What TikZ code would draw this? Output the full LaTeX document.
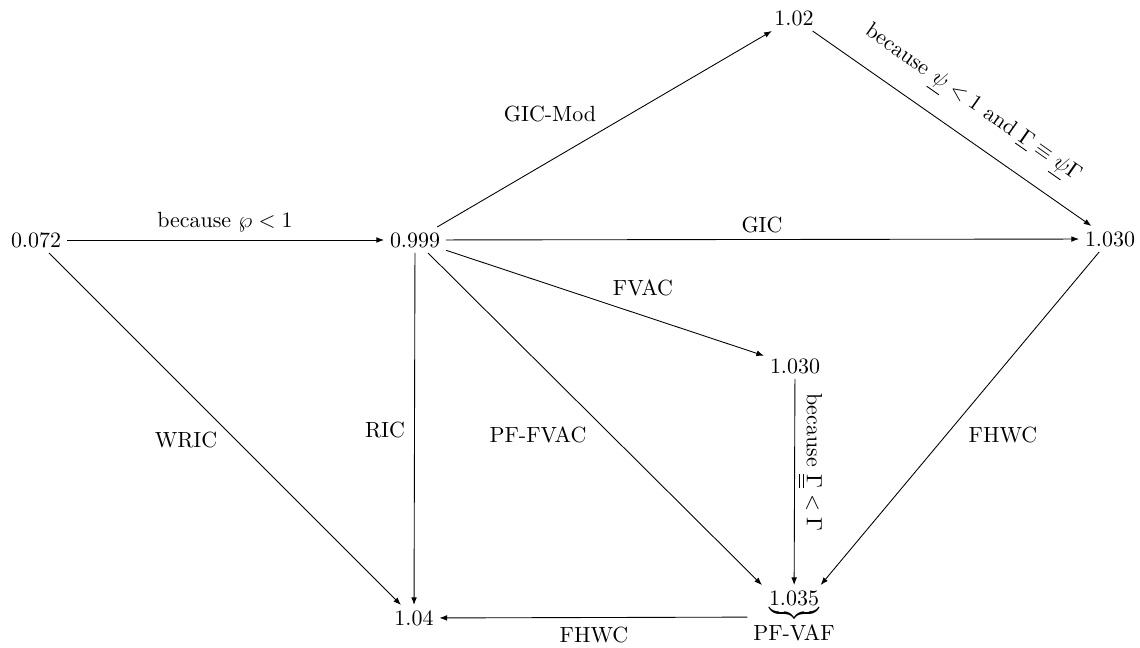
\documentclass[tikz,border=0pt]{standalone}
\usetikzlibrary{arrows.meta}
\begin{document}
\begin{tikzpicture}[x=0.4556pt,y=-0.4556pt,
  nd/.style={inner sep=2.5pt},
  arr/.style={-{Latex[length=3.5pt,width=2.6pt]}, line width=0.4pt},
  lbl/.style={inner sep=0pt}]
\useasboundingbox (0,0) rectangle (1140,648);
% nodes
\node[nd] (a) at (36,240) {$0.072$};
\node[nd] (b) at (415,240) {$0.999$};
\node[nd] (c) at (794,18) {$1.02$};
\node[nd] (d) at (1110,239) {$1.030$};
\node[nd] (e) at (795,366) {$1.030$};
\node[nd] (f) at (794,617) {$\underbrace{1.035}_{\mbox{PF-VAF}}$};
\node[nd] (g) at (414,618) {$1.04$};
% connectors
\draw[arr] (a) -- (b);
\draw[arr] (b) -- (c);
\draw[arr] (c) -- (d);
\draw[arr] (b) -- (d);
\draw[arr] (b) -- (e);
\draw[arr] (e) -- (f);
\draw[arr] (b) -- (f);
\draw[arr] (b) -- (g);
\draw[arr] (a) -- (g);
\draw[arr] (d) -- (f);
\draw[arr] (f) -- (g);
% labels
\node[lbl] (l1) at (225,222) {because $\wp<1$};
\node[lbl] (l2) at (550,114) {GIC-Mod};
\node[lbl] (l3) at (762,225) {GIC};
\node[lbl] (l4) at (643,288) {FVAC};
\node[lbl] (l5) at (186,440) {WRIC};
\node[lbl] (l6) at (385,430) {RIC};
\node[lbl] (l7) at (538,435) {PF-FVAC};
\node[lbl] (l8) at (1003,435) {FHWC};
\node[lbl] (l9) at (594,635) {FHWC};
\node[lbl, rotate=-35] (l10) at (972,105) {because $\underline{\psi}<1$ and $\underline{\Gamma}\equiv\underline{\psi}\Gamma$};
\node[lbl, rotate=-90] (l11) at (810,462) {because $\underline{\underline{\Gamma}}<\Gamma$};
\end{tikzpicture}
\end{document}
